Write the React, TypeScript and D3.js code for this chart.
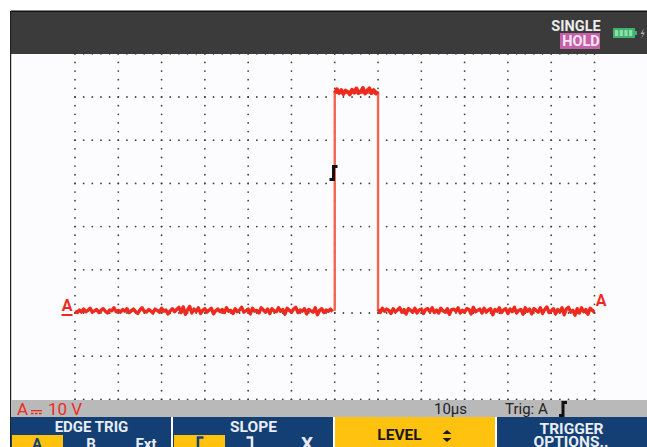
import React from "react";
import * as d3 from "d3";

const DIVS_X = d3.range(0, 13);
const DIVS_Y = d3.range(-2, 7);
const SUBDIV = d3.range(0, 5);
const US_PER_DIV = 10;
const V_PER_DIV = 10;
const SAMPLE_US = 0.5;
const baselineLeft = [0.4,0.1,0.7,0.2,0.9,0.3,0.6,1.1,0.2,0.5,0.8,0.1,0.6,1.0,0.4,0.0,0.7,0.5,1.2,0.3,0.6,0.2,0.8,0.4,1.0,0.1,0.5,0.9,0.3,-0.1,0.7,1.2,0.4,0.2,0.8,0.5,0.0,0.9,0.6,0.2,1.1,0.4,0.7,-0.2,0.5,1.0,0.3,0.8,1.3,0.1,1.4,-0.3,0.7,1.5,0.0,0.9,0.4,1.2,-0.1,0.6,1.0,0.2,0.7,1.1,-0.2,0.5,0.9,0.3,0.8,0.1,1.2,0.4,0.6,-0.1,1.0,0.3,0.7,1.3,0.2,0.5,0.9,-0.2,1.1,0.4,0.6,0.0,1.2,0.7,0.2,0.9,-0.1,1.0,0.5,0.3,1.2,0.4,0.8,-0.3,1.1,0.6,0.2,0.9,1.3,0.1,0.7,0.4,1.0,-0.2,0.8,0.5,0.2,1.2,-0.4,0.6,1.0,0.1,0.7,0.4,0.9,0.3];
const pulseTop = [50.9,51.8,50.9,51.6,50.7,51.5,51.2,50.6,51.7,51.0,52.0,50.9,51.3,52.1,50.8,51.5,52.0,50.9,51.6,50.8,51.2];
const baselineRight = [0.8,0.1,1.1,0.4,0.9,0.6,-0.1,1.0,0.3,0.7,1.2,0.2,0.8,-0.2,1.0,0.6,0.2,1.1,0.0,0.7,0.9,-0.1,0.8,1.0,0.3,1.2,0.1,0.7,0.0,1.1,0.5,0.2,1.0,-0.3,0.8,0.9,0.4,1.2,0.0,0.6,0.2,1.0,0.8,-0.2,1.3,0.3,0.6,0.9,0.0,1.1,0.2,0.7,1.0,-0.4,0.8,0.4,1.2,0.1,0.7,1.0,-0.1,0.9,0.3,1.3,0.0,0.6,0.8,-0.3,1.2,0.4,0.9,-0.2,1.0,0.6,0.2,1.2,-0.1,0.8,1.4,0.1,0.5,1.0,-0.2,0.8,0.3,1.2,-0.4,0.9,1.3,0.2,0.6,-0.5,1.0,0.0,1.2,0.3,0.8,-0.3,1.1,0.6,0.2];

const x = d3.scaleLinear().domain([0, 120]).range([75, 594.5]);
const y = d3.scaleLinear().domain([0, 60]).range([313, 53.8]);

const left: [number, number][] = baselineLeft.map((v, i) => [i * SAMPLE_US, v]);
const top: [number, number][] = pulseTop.map((v, i) => [60 + i * SAMPLE_US, v]);
const right: [number, number][] = baselineRight.map((v, i) => [70 + i * SAMPLE_US, v]);
const line = d3.line<[number, number]>().x((d) => x(d[0])).y((d) => y(d[1]));

const FONT = "Roboto, sans-serif";
const RED = "#ee2a1e";
const EDGE = "#f4654f";
const BLUE = "#143f75";
const YELLOW = "#fec20f";

function Label(p: { x: number; y: number; t: string; fill?: string; size?: number; anchor?: string; weight?: number }) {
  return <text x={p.x} y={p.y} fill={p.fill ?? "#e8edf3"} fontSize={p.size ?? 15} textAnchor={(p.anchor ?? "middle") as any} fontWeight={p.weight ?? 700} fontFamily={FONT}>{p.t}</text>;
}

function TrigGlyph(p: { x: number; y: number; h?: number }) {
  const h = p.h ?? 14;
  return <path d={`M${p.x - 4},${p.y + h / 2 - 1} H${p.x} V${p.y - h / 2 + 1} H${p.x + 4}`} fill="none" stroke="#111" strokeWidth={3} />;
}

export default function App() {
  const dots: { cx: number; cy: number }[] = [];
  DIVS_Y.forEach((r) => {
    const cy = y(r * V_PER_DIV);
    if (cy < 53 || cy > 402) return;
    DIVS_X.slice(0, -1).forEach((c) => SUBDIV.forEach((s) => {
      dots.push({ cx: x((c + s / 5) * US_PER_DIV), cy });
    }));
    dots.push({ cx: x(120), cy });
  });
  DIVS_X.forEach((c) => {
    DIVS_Y.forEach((r) => SUBDIV.forEach((s) => {
      const cy = y((r + s / 5) * V_PER_DIV);
      if (cy > 53 && cy < 402) dots.push({ cx: x(c * US_PER_DIV), cy });
    }));
  });
  return (
    <svg width={647} height={447} style={{ position: "absolute", left: 0, top: 0, background: "#fff" }}>
      <rect x={11} y={54} width={636} height={346} fill="#fcfcfe" />
      {dots.map((d, i) => <circle key={i} cx={d.cx} cy={d.cy} r={0.9} fill="#444" />)}
      <rect x={11} y={11} width={636} height={43} fill="#3b3b3b" />
      <rect x={11} y={10.5} width={636} height={1.5} fill="#111" />
      <rect x={10} y={11} width={1.2} height={436} fill="#222" />

      <Label x={576} y={31} t="SINGLE" fill="#ececec" size={14.5} />
      <rect x={560} y={33} width={40} height={16} fill="#c660a8" />
      <Label x={581} y={46} t="HOLD" fill="#f5e6f1" size={14.5} />
      <rect x={613} y={28} width={22} height={10} fill="#3fb26f" />
      {d3.range(0, 4).map((i) => <rect key={i} x={615 + i * 4.7} y={30} width={3.2} height={6} fill="#8ce0a8" />)}
      <rect x={635} y={31} width={2} height={4} fill="#3fb26f" />
      <path d="M644,28 L640.5,34 H643 L641,39 L645,32.5 H642.5 Z" fill="#aaa" />

      <path d={line([[60, 0.5], [60, 51], [70, 51], [70, 0.5]]) ?? ""} stroke={EDGE} strokeWidth={2.4} fill="none" />
      <path d={line(left) ?? ""} fill="none" stroke={RED} strokeWidth={3.4} strokeLinejoin="round" />
      <path d={line(top) ?? ""} fill="none" stroke={RED} strokeWidth={3.8} strokeLinejoin="round" />
      <path d={line(right) ?? ""} fill="none" stroke={RED} strokeWidth={3.4} strokeLinejoin="round" />
      <TrigGlyph x={333.5} y={173} h={15} />

      <Label x={67} y={311} t="A" fill={RED} size={16} />
      <rect x={61.5} y={314} width={11} height={2} fill={RED} />
      <Label x={601} y={306} t="A" fill={RED} size={16} />

      <rect x={11} y={400} width={636} height={17} fill="#b9b9b9" />
      <Label x={17} y={415} t="A" fill={RED} size={17} anchor="start" weight={400} />
      <rect x={31} y={410} width={11} height={1.3} fill={RED} />
      <path d="M31,413.5 H42" stroke={RED} strokeWidth={1.3} strokeDasharray="2.5 1.5" />
      <Label x={48} y={415} t="10 V" fill={RED} size={17} anchor="start" weight={400} />
      <Label x={434} y={414} t="10µs" fill="#222" size={15} anchor="start" weight={400} />
      <Label x={505} y={414} t="Trig: A" fill="#222" size={15} anchor="start" weight={400} />
      <TrigGlyph x={563} y={409} h={15} />

      <rect x={11} y={417} width={160} height={30} fill={BLUE} />
      <rect x={173} y={417} width={160} height={30} fill={BLUE} />
      <rect x={335} y={417} width={160} height={30} fill={YELLOW} />
      <rect x={497} y={417} width={150} height={30} fill={BLUE} />
      <rect x={12} y={435} width={51} height={12} fill={YELLOW} />
      <rect x={174} y={435} width={51} height={12} fill={YELLOW} />

      <Label x={91.5} y={432} t="EDGE TRIG" />
      <Label x={37} y={449} t="A" fill={BLUE} />
      <Label x={91} y={449} t="B" />
      <Label x={146} y={449} t="Ext" />
      <Label x={253.5} y={432} t="SLOPE" size={15.5} />
      <path d="M198,447 V437.5 H203.5" fill="none" stroke={BLUE} strokeWidth={2.5} />
      <path d="M252,447 V437.5 H246.5" fill="none" stroke="#e8edf3" strokeWidth={2.5} />
      <Label x={307} y={450} t="X" size={19} />
      <Label x={399.5} y={440} t="LEVEL" fill="#1a1a1a" size={15.5} />
      <path d="M447,430 L451.5,434 H442.5 Z M447,442 L451.5,438 H442.5 Z" fill="#1a1a1a" />
      <Label x={571.5} y={434} t="TRIGGER" size={15.5} />
      <Label x={571} y={447} t="OPTIONS.." size={15.5} />
    </svg>
  );
}
